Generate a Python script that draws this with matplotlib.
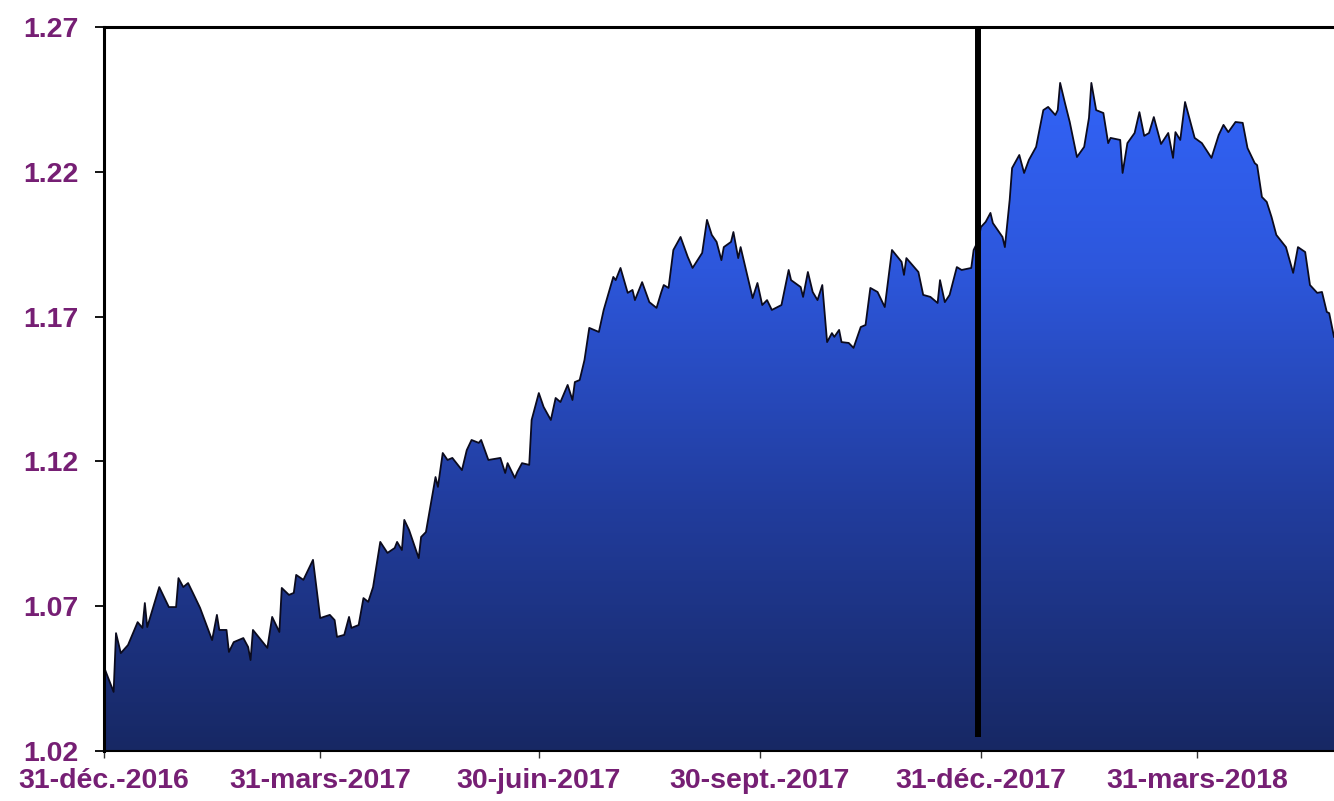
import numpy as np
import pandas as pd
import matplotlib
matplotlib.use("Agg")
import matplotlib.pyplot as plt
import matplotlib.dates as mdates
from matplotlib.colors import LinearSegmentedColormap

# EUR/USD: days after 31-Dec-2016 and the rate
start = pd.Timestamp("2016-12-31")
days = [0, 4, 5, 7, 10, 14, 16, 17, 18, 23, 27, 30, 31, 33, 35, 37, 40, 45, 47, 48,
        51, 52, 54, 58, 60, 61, 62, 68, 70, 73, 74, 77, 79, 80, 83, 87, 90, 94, 96, 97,
        100, 102, 103, 106, 108, 110, 112, 115, 118, 121, 122, 124, 125, 127, 131, 132, 134, 138, 139, 141,
        143, 145, 149, 151, 153, 156, 157, 160, 165, 167, 168, 171, 172, 174, 177, 178, 181, 183, 186, 188,
        190, 193, 195, 196, 198, 200, 202, 206, 208, 212, 213, 215, 218, 220, 221, 224, 227, 230, 232, 233,
        235, 237, 240, 243, 245, 249, 251, 253, 255, 257, 258, 261, 262, 264, 265, 270, 272, 274, 276, 278,
        282, 285, 286, 290, 291, 293, 295, 297, 299, 301, 303, 304, 306, 307, 310, 312, 315, 317, 319, 322,
        325, 328, 332, 333, 334, 339, 341, 344, 347, 348, 350, 352, 355, 357, 361, 362, 364, 365, 367, 369,
        370, 374, 375, 377, 378, 381, 383, 385, 388, 391, 393, 396, 397, 398, 400, 402, 405, 408, 410, 411,
        413, 416, 418, 419, 423, 424, 426, 429, 431, 433, 435, 437, 440, 443, 445, 446, 448, 450, 454, 457,
        461, 464, 466, 468, 471, 474, 476, 479, 480, 482, 484, 486, 488, 492, 495, 497, 500, 502, 505, 507,
        509, 510, 512]
rates = [1.0490, 1.0404, 1.0607, 1.0538, 1.0566, 1.0645, 1.0625, 1.0711, 1.0628, 1.0766,
         1.0697, 1.0697, 1.0797, 1.0766, 1.0780, 1.0746, 1.0694, 1.0583, 1.0670, 1.0618,
         1.0618, 1.0542, 1.0576, 1.0590, 1.0559, 1.0514, 1.0618, 1.0556, 1.0663, 1.0611,
         1.0763, 1.0739, 1.0746, 1.0808, 1.0791, 1.0860, 1.0659, 1.0670, 1.0652, 1.0594,
         1.0601, 1.0663, 1.0625, 1.0635, 1.0728, 1.0715, 1.0766, 1.0922, 1.0884, 1.0901,
         1.0922, 1.0894, 1.0998, 1.0963, 1.0866, 1.0939, 1.0956, 1.1146, 1.1112, 1.1229,
         1.1205, 1.1212, 1.1170, 1.1239, 1.1274, 1.1264, 1.1274, 1.1205, 1.1212, 1.1160,
         1.1194, 1.1143, 1.1163, 1.1194, 1.1188, 1.1343, 1.1436, 1.1388, 1.1343, 1.1419,
         1.1405, 1.1464, 1.1412, 1.1474, 1.1481, 1.1550, 1.1661, 1.1647, 1.1723, 1.1837,
         1.1826, 1.1868, 1.1782, 1.1792, 1.1757, 1.1819, 1.1750, 1.1730, 1.1785, 1.1809,
         1.1799, 1.1930, 1.1975, 1.1906, 1.1868, 1.1920, 1.2034, 1.1982, 1.1958, 1.1895,
         1.1940, 1.1958, 1.1992, 1.1902, 1.1940, 1.1764, 1.1816, 1.1740, 1.1757, 1.1723,
         1.1740, 1.1861, 1.1826, 1.1802, 1.1768, 1.1854, 1.1785, 1.1757, 1.1809, 1.1612,
         1.1643, 1.1630, 1.1654, 1.1612, 1.1609, 1.1592, 1.1664, 1.1671, 1.1799, 1.1785,
         1.1733, 1.1930, 1.1889, 1.1844, 1.1902, 1.1854, 1.1775, 1.1768, 1.1747, 1.1826,
         1.1750, 1.1775, 1.1871, 1.1861, 1.1868, 1.1930, 1.1964, 1.2009, 1.2027, 1.2058,
         1.2023, 1.1975, 1.1940, 1.2103, 1.2213, 1.2258, 1.2196, 1.2241, 1.2286, 1.2413,
         1.2424, 1.2396, 1.2413, 1.2507, 1.2438, 1.2372, 1.2251, 1.2286, 1.2386, 1.2507,
         1.2413, 1.2403, 1.2299, 1.2317, 1.2310, 1.2196, 1.2299, 1.2334, 1.2406, 1.2324,
         1.2334, 1.2389, 1.2296, 1.2334, 1.2248, 1.2337, 1.2310, 1.2441, 1.2317, 1.2299,
         1.2248, 1.2327, 1.2362, 1.2337, 1.2372, 1.2369, 1.2282, 1.2230, 1.2223, 1.2113,
         1.2096, 1.2044, 1.1982, 1.1940, 1.1851, 1.1940, 1.1923, 1.1809, 1.1782, 1.1785,
         1.1716, 1.1712, 1.1630]

tick_dates = ["2016-12-31", "2017-03-31", "2017-06-30", "2017-09-30", "2017-12-31", "2018-03-31"]
tick_labels = ["31-déc.-2016", "31-mars-2017", "30-juin-2017", "30-sept.-2017", "31-déc.-2017", "31-mars-2018"]
y_ticks = [1.02, 1.07, 1.12, 1.17, 1.22, 1.27]
year_end = "2017-12-30"

y_min, y_max = 1.02, 1.27
label_color = "#761f74"

x = mdates.date2num((start + pd.to_timedelta(days, unit="D")).to_pydatetime())
rates = np.array(rates)

fig = plt.figure(figsize=(13.34, 8.01), dpi=100)
ax = fig.add_axes([104 / 1334, 50 / 801, 1 - 104 / 1334, 724 / 801])

# area polygon used as clip path for the gradient
poly = ax.fill_between(x, rates, y_min, facecolor="none", edgecolor="none")
cmap = LinearSegmentedColormap.from_list("blues", ["#172864", "#213c9c", "#2d57dc", "#3366ff"])
grad = np.linspace(0, 1, 256).reshape(-1, 1)
im = ax.imshow(grad, cmap=cmap, extent=[x[0], x[-1], y_min, y_max],
               origin="lower", aspect="auto", zorder=1)
im.set_clip_path(poly.get_paths()[0], transform=ax.transData)

ax.plot(x, rates, color="#0b0b1e", lw=1.3, zorder=2)

# end of 2017 marker
ax.vlines(mdates.date2num(pd.Timestamp(year_end)), 1.025, y_max, color="black", lw=4.3, zorder=3)

ax.set_xlim(x[0], x[-1])
ax.set_ylim(y_min, y_max)

ax.set_yticks(y_ticks)
ax.set_yticklabels(["%.2f" % v for v in y_ticks])
ax.set_xticks(mdates.date2num(pd.to_datetime(tick_dates).to_pydatetime()))
ax.set_xticklabels(tick_labels)

for lab in ax.get_xticklabels() + ax.get_yticklabels():
    lab.set_fontfamily("Liberation Sans")
    lab.set_fontweight("bold")
    lab.set_fontsize(20.5)
    lab.set_color(label_color)

ax.tick_params(axis="y", length=6.5, width=1.3, pad=12, color="black")
ax.tick_params(axis="x", length=5, width=1.0, pad=7, color="#333333")

ax.spines["right"].set_visible(False)
ax.spines["left"].set_linewidth(2.2)
ax.spines["top"].set_linewidth(2.2)
ax.spines["bottom"].set_linewidth(1.5)
for s in ("left", "top", "bottom"):
    ax.spines[s].set_color("black")
    ax.spines[s].set_zorder(4)

fig.savefig("out.png", dpi=100)
